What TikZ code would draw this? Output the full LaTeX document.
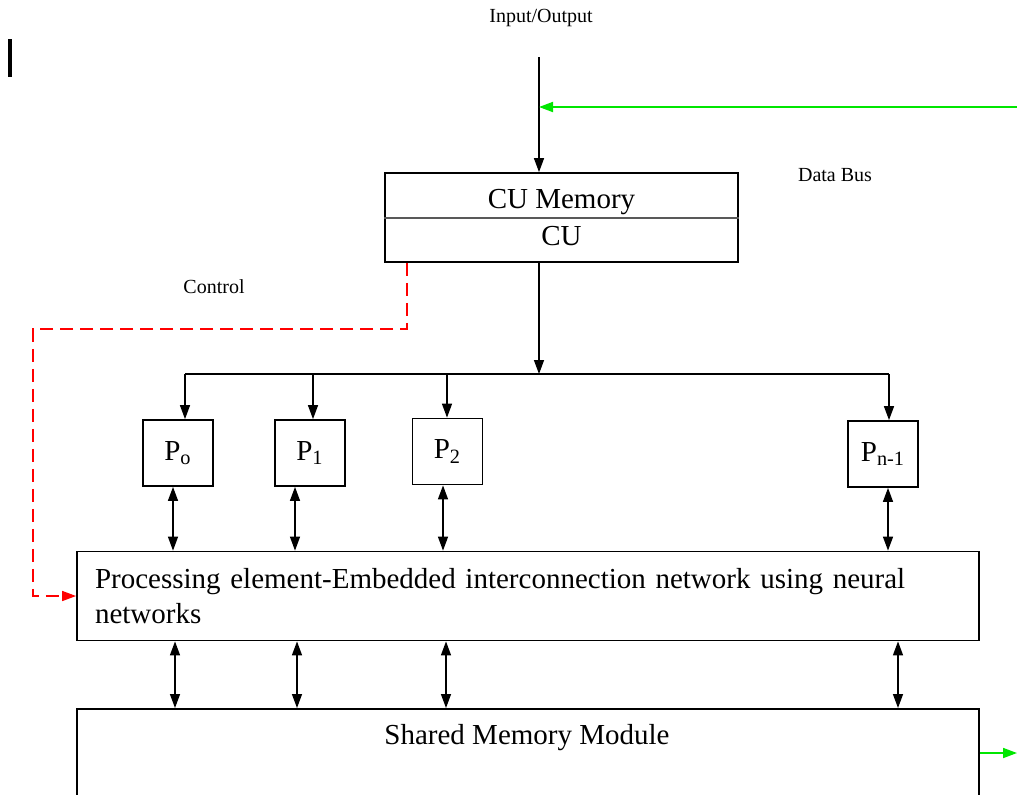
\documentclass[tikz,border=0pt]{standalone}
\usepackage{fontspec}
\setmainfont{Liberation Serif}
\usetikzlibrary{arrows.meta,positioning}
\definecolor{busgreen}{RGB}{0,230,0}

\begin{document}
\begin{tikzpicture}[x=0.5pt,y=-0.5pt,>={Triangle[length=7pt,width=5pt]},
    box/.style={draw,line width=0.9pt,inner sep=0pt,font=\fontsize{14.5}{17.5}\selectfont},
    pe/.style={box,minimum width=35pt,minimum height=33pt},
    lbl/.style={font=\fontsize{10}{12}\selectfont}]
  \useasboundingbox (0,0) rectangle (1017,794);
  \clip (0,0) rectangle (1017,794);

  \draw[line width=2pt] (10,39) -- (10,77);

  \node[lbl] (io) at (541,18) {Input/Output};
  \node[lbl] (dbus) at (835,175) {Data Bus};
  \node[lbl] (ctl) at (214,287) {Control};

  \node[box,minimum width=176.5pt,minimum height=44.5pt,align=center,
    font=\fontsize{14.5}{18.5}\selectfont] (cu) at (561.5,217.5) {CU Memory\\CU};
  \draw[line width=0.9pt,gray!70!black] (cu.west |- 0,218) -- (cu.east |- 0,218);

  \node[pe] (p0) at (178,453) {P\textsubscript{o}};
  \node[pe] (p1) at (310,453) {P\textsubscript{1}};
  \node[pe] (p2) at (447.5,451.5) {P\textsubscript{2}};
  \node[pe] (pn) at (883,454) {P\textsubscript{n-1}};

  \node[box,minimum height=44.5pt,text width=433pt,align=left,inner xsep=9pt] (net)
    at (528,596) {Processing element-Embedded interconnection network using neural\\networks};
  \node[box,minimum width=451pt,minimum height=61pt,anchor=north] (smm) at (528,708) {};
  \node[font=\fontsize{14.5}{17.5}\selectfont] (smmlbl) at (527,738) {Shared Memory Module};

  \coordinate (in) at (539,57);
  \coordinate (db) at (1017,107);
  \coordinate (bc) at (539,374);
  \coordinate (b0) at (185,374);
  \coordinate (b1) at (313,374);
  \coordinate (b2) at (447,374);
  \coordinate (bn) at (889,374);
  \coordinate (out) at (1017,753);

  \begin{scope}[line width=0.7pt,->]
    \draw (in) -- (in |- cu.north);
    \draw (bc |- cu.south) -- (bc);
    \draw (b0) -- (b0 |- p0.north);
    \draw (b1) -- (b1 |- p1.north);
    \draw (b2) -- (b2 |- p2.north);
    \draw (bn) -- (bn |- pn.north);
  \end{scope}
  \draw[line width=0.7pt] (b0) -- (bn);

  \begin{scope}[line width=0.7pt,<->]
    \draw (173,0 |- p0.south) -- (173,0 |- net.north);
    \draw (295,0 |- p1.south) -- (295,0 |- net.north);
    \draw (443,0 |- p2.south) -- (443,0 |- net.north);
    \draw (888,0 |- pn.south) -- (888,0 |- net.north);
    \draw (175,0 |- net.south) -- (175,0 |- smm.north);
    \draw (297,0 |- net.south) -- (297,0 |- smm.north);
    \draw (446,0 |- net.south) -- (446,0 |- smm.north);
    \draw (898,0 |- net.south) -- (898,0 |- smm.north);
  \end{scope}

  \draw[red,line width=0.7pt,dash pattern=on 6.5pt off 3.5pt,->]
    (407,0 |- cu.south) |- (33,329) |- (net.west);
  \draw[busgreen,line width=0.9pt,->] (db) -- (db -| in);
  \draw[busgreen,line width=0.9pt,->] (out -| smm.east) -- (out);
\end{tikzpicture}
\end{document}
